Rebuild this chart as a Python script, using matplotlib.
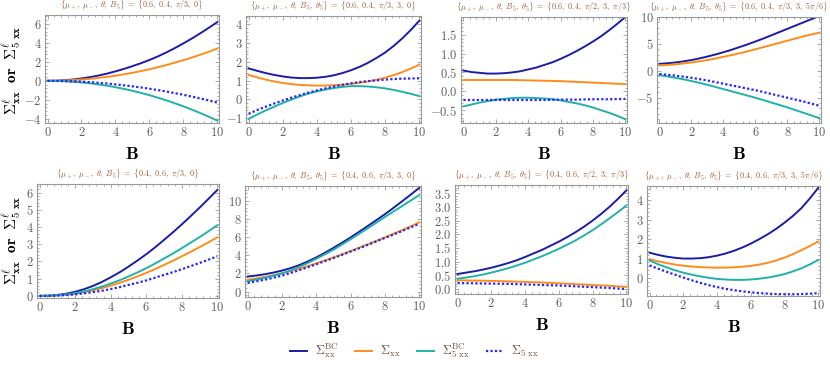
import matplotlib
matplotlib.use("Agg")
import matplotlib.pyplot as plt
from matplotlib.ticker import AutoMinorLocator, FuncFormatter, MultipleLocator
from matplotlib.lines import Line2D

plt.rcParams["mathtext.fontset"] = "cm"
plt.rcParams["font.family"] = ["DejaVu Serif"]

B = [0, 0.5, 1, 1.5, 2, 2.5, 3, 3.5, 4, 4.5, 5, 5.5, 6, 6.5, 7, 7.5, 8, 8.5, 9, 9.5, 10]

# top row: mu+ = 0.6, mu- = 0.4
r1p1_bc = [0, 0.015, 0.06, 0.14, 0.25, 0.39, 0.56, 0.76, 1.0, 1.26, 1.55, 1.86, 2.2, 2.58, 3.0, 3.46, 3.95, 4.47, 5.02, 5.6, 6.2]
r1p1_xx = [0, 0.01, 0.03, 0.08, 0.14, 0.21, 0.31, 0.42, 0.54, 0.69, 0.85, 1.03, 1.22, 1.44, 1.67, 1.92, 2.18, 2.46, 2.75, 3.07, 3.4]
r1p1_5bc = [0, -0.01, -0.04, -0.1, -0.17, -0.26, -0.38, -0.51, -0.67, -0.85, -1.05, -1.27, -1.51, -1.78, -2.06, -2.37, -2.69, -3.04, -3.4, -3.79, -4.2]
r1p1_5xx = [0, -0.01, -0.02, -0.05, -0.09, -0.14, -0.21, -0.28, -0.37, -0.47, -0.58, -0.7, -0.83, -0.98, -1.13, -1.3, -1.47, -1.66, -1.86, -2.07, -2.3]

r1p2_bc = [1.65, 1.52, 1.4, 1.3, 1.22, 1.16, 1.13, 1.13, 1.15, 1.2, 1.28, 1.4, 1.55, 1.73, 1.95, 2.21, 2.5, 2.85, 3.25, 3.7, 4.2]
r1p2_xx = [1.3, 1.17, 1.05, 0.95, 0.87, 0.81, 0.77, 0.74, 0.73, 0.73, 0.75, 0.78, 0.82, 0.88, 0.95, 1.04, 1.15, 1.29, 1.45, 1.64, 1.85]
r1p2_5bc = [-1.05, -0.82, -0.6, -0.4, -0.2, -0.02, 0.15, 0.3, 0.42, 0.52, 0.6, 0.66, 0.7, 0.7, 0.68, 0.64, 0.58, 0.5, 0.4, 0.29, 0.17]
r1p2_5xx = [-0.78, -0.58, -0.4, -0.23, -0.07, 0.08, 0.22, 0.35, 0.47, 0.58, 0.68, 0.77, 0.85, 0.92, 0.97, 1.01, 1.05, 1.08, 1.1, 1.11, 1.12]

r1p3_bc = [0.55, 0.51, 0.49, 0.47, 0.47, 0.48, 0.5, 0.53, 0.58, 0.63, 0.7, 0.77, 0.86, 0.96, 1.07, 1.19, 1.32, 1.46, 1.62, 1.79, 1.97]
r1p3_xx = [0.3, 0.3, 0.3, 0.3, 0.3, 0.3, 0.3, 0.295, 0.29, 0.285, 0.28, 0.275, 0.27, 0.26, 0.25, 0.24, 0.23, 0.22, 0.21, 0.2, 0.19]
r1p3_5bc = [-0.4, -0.35, -0.3, -0.26, -0.22, -0.2, -0.18, -0.17, -0.17, -0.18, -0.19, -0.21, -0.24, -0.28, -0.32, -0.37, -0.43, -0.5, -0.57, -0.65, -0.74]
r1p3_5xx = [-0.23, -0.23, -0.23, -0.23, -0.23, -0.23, -0.23, -0.23, -0.23, -0.23, -0.23, -0.225, -0.22, -0.22, -0.22, -0.215, -0.21, -0.21, -0.21, -0.205, -0.2]

r1p4_bc = [1.3, 1.4, 1.55, 1.75, 2.0, 2.3, 2.65, 3.03, 3.45, 3.9, 4.4, 4.9, 5.45, 6.0, 6.6, 7.2, 7.8, 8.4, 9.0, 9.6, 10.2]
r1p4_xx = [1.0, 1.08, 1.2, 1.36, 1.55, 1.76, 2.0, 2.28, 2.6, 2.92, 3.25, 3.6, 4.0, 4.4, 4.8, 5.2, 5.6, 6.0, 6.4, 6.75, 7.1]
r1p4_5bc = [-0.8, -1.04, -1.3, -1.58, -1.9, -2.24, -2.6, -3.0, -3.4, -3.8, -4.2, -4.6, -5.0, -5.45, -5.9, -6.35, -6.8, -7.3, -7.8, -8.3, -8.8]
r1p4_5xx = [-0.6, -0.74, -0.9, -1.09, -1.3, -1.54, -1.8, -2.09, -2.4, -2.7, -3.0, -3.3, -3.6, -3.95, -4.3, -4.65, -5.0, -5.35, -5.7, -6.1, -6.5]

# bottom row: mu+ = 0.4, mu- = 0.6
r2p1_bc = [0, 0.015, 0.06, 0.13, 0.24, 0.39, 0.58, 0.81, 1.08, 1.37, 1.7, 2.05, 2.42, 2.82, 3.25, 3.69, 4.15, 4.63, 5.12, 5.63, 6.15]
r2p1_xx = [0, 0.01, 0.03, 0.07, 0.13, 0.21, 0.32, 0.45, 0.6, 0.76, 0.94, 1.13, 1.34, 1.56, 1.8, 2.04, 2.3, 2.56, 2.83, 3.11, 3.4]
r2p1_5bc = [0, 0.01, 0.04, 0.09, 0.16, 0.26, 0.39, 0.54, 0.72, 0.91, 1.13, 1.36, 1.61, 1.88, 2.17, 2.46, 2.77, 3.09, 3.41, 3.75, 4.1]
r2p1_5xx = [0, 0.005, 0.02, 0.05, 0.09, 0.15, 0.22, 0.3, 0.4, 0.51, 0.64, 0.76, 0.9, 1.06, 1.22, 1.38, 1.55, 1.73, 1.91, 2.1, 2.3]

r2p2_bc = [1.65, 1.76, 1.9, 2.08, 2.3, 2.57, 2.9, 3.3, 3.75, 4.25, 4.8, 5.36, 5.95, 6.57, 7.2, 7.85, 8.5, 9.2, 9.92, 10.65, 11.4]
r2p2_xx = [1.3, 1.44, 1.6, 1.79, 2.0, 2.24, 2.5, 2.79, 3.1, 3.42, 3.75, 4.09, 4.45, 4.82, 5.2, 5.57, 5.95, 6.35, 6.75, 7.17, 7.6]
r2p2_5bc = [1.15, 1.31, 1.5, 1.73, 2.0, 2.33, 2.7, 3.13, 3.6, 4.09, 4.6, 5.16, 5.75, 6.35, 6.95, 7.57, 8.2, 8.8, 9.4, 10.0, 10.6]
r2p2_5xx = [0.95, 1.12, 1.3, 1.51, 1.75, 2.04, 2.35, 2.67, 3.0, 3.34, 3.68, 4.04, 4.4, 4.76, 5.13, 5.51, 5.9, 6.27, 6.65, 7.05, 7.45]

r2p3_bc = [0.55, 0.6, 0.65, 0.71, 0.78, 0.86, 0.95, 1.05, 1.17, 1.3, 1.43, 1.58, 1.73, 1.9, 2.08, 2.28, 2.5, 2.74, 3.0, 3.29, 3.6]
r2p3_xx = [0.32, 0.315, 0.31, 0.305, 0.3, 0.29, 0.28, 0.27, 0.26, 0.25, 0.24, 0.225, 0.21, 0.195, 0.18, 0.165, 0.15, 0.135, 0.12, 0.1, 0.08]
r2p3_5bc = [0.38, 0.42, 0.47, 0.53, 0.6, 0.68, 0.76, 0.86, 0.96, 1.08, 1.2, 1.33, 1.47, 1.62, 1.78, 1.96, 2.15, 2.36, 2.58, 2.81, 3.05]
r2p3_5xx = [0.22, 0.215, 0.21, 0.205, 0.2, 0.195, 0.19, 0.18, 0.17, 0.16, 0.15, 0.14, 0.13, 0.115, 0.1, 0.085, 0.07, 0.055, 0.04, 0.02, 0.0]

r2p4_bc = [1.3, 1.19, 1.1, 1.04, 1.0, 1.0, 1.02, 1.07, 1.15, 1.26, 1.4, 1.57, 1.77, 2.0, 2.25, 2.53, 2.85, 3.2, 3.6, 4.1, 4.65]
r2p4_xx = [0.97, 0.86, 0.77, 0.69, 0.63, 0.59, 0.56, 0.54, 0.53, 0.535, 0.55, 0.58, 0.62, 0.69, 0.78, 0.9, 1.05, 1.23, 1.43, 1.65, 1.88]
r2p4_5bc = [0.9, 0.71, 0.55, 0.4, 0.27, 0.17, 0.08, 0.01, -0.05, -0.08, -0.1, -0.1, -0.08, -0.04, 0.02, 0.1, 0.2, 0.34, 0.5, 0.7, 0.93]
r2p4_5xx = [0.65, 0.48, 0.32, 0.17, 0.02, -0.12, -0.25, -0.37, -0.47, -0.56, -0.63, -0.69, -0.74, -0.78, -0.81, -0.83, -0.84, -0.84, -0.83, -0.81, -0.78]

titles = [
    r"$\{\mu_+,\ \mu_-,\ \theta,\ B_5\}\ =\ \{0.6,\ 0.4,\ \pi/3,\ 0\}$",
    r"$\{\mu_+,\ \mu_-,\ \theta,\ B_5,\ \theta_5\}\ =\ \{0.6,\ 0.4,\ \pi/3,\ 3,\ 0\}$",
    r"$\{\mu_+,\ \mu_-,\ \theta,\ B_5,\ \theta_5\}\ =\ \{0.6,\ 0.4,\ \pi/2,\ 3,\ \pi/3\}$",
    r"$\{\mu_+,\ \mu_-,\ \theta,\ B_5,\ \theta_5\}\ =\ \{0.6,\ 0.4,\ \pi/3,\ 3,\ 5\pi/6\}$",
    r"$\{\mu_+,\ \mu_-,\ \theta,\ B_5\}\ =\ \{0.4,\ 0.6,\ \pi/3,\ 0\}$",
    r"$\{\mu_+,\ \mu_-,\ \theta,\ B_5,\ \theta_5\}\ =\ \{0.4,\ 0.6,\ \pi/3,\ 3,\ 0\}$",
    r"$\{\mu_+,\ \mu_-,\ \theta,\ B_5,\ \theta_5\}\ =\ \{0.4,\ 0.6,\ \pi/2,\ 3,\ \pi/3\}$",
    r"$\{\mu_+,\ \mu_-,\ \theta,\ B_5,\ \theta_5\}\ =\ \{0.4,\ 0.6,\ \pi/3,\ 3,\ 5\pi/6\}$",
]

panels = [
    (r1p1_bc, r1p1_xx, r1p1_5bc, r1p1_5xx),
    (r1p2_bc, r1p2_xx, r1p2_5bc, r1p2_5xx),
    (r1p3_bc, r1p3_xx, r1p3_5bc, r1p3_5xx),
    (r1p4_bc, r1p4_xx, r1p4_5bc, r1p4_5xx),
    (r2p1_bc, r2p1_xx, r2p1_5bc, r2p1_5xx),
    (r2p2_bc, r2p2_xx, r2p2_5bc, r2p2_5xx),
    (r2p3_bc, r2p3_xx, r2p3_5bc, r2p3_5xx),
    (r2p4_bc, r2p4_xx, r2p4_5bc, r2p4_5xx),
]

ylims = [(-4.45, 6.95), (-1.27, 4.45), (-0.84, 1.97), (-9.7, 10.0),
         (-0.12, 6.5), (-0.6, 11.6), (-0.18, 3.8), (-0.93, 4.74)]
ysteps = [2, 1, 0.5, 5, 1, 2, 0.5, 1]

# axes boxes in pixels: left, top, right, bottom
boxes = [(45, 15, 219, 123), (246, 16, 421, 123), (461, 17, 627, 123), (657, 17, 821, 123),
         (37, 184, 219, 298), (245, 186, 421, 297), (455, 185, 628, 294), (647, 186, 820, 296)]

colors = ["#1c1ca6", "#ff8c1a", "#20b2aa", "#2525ff"]
W, H = 830, 370


def tick_fmt(decimals):
    def fmt(v, pos):
        txt = f"{v:.{decimals}f}".replace("-", "")
        sign = "-" if v < -1e-9 else ""
        return r"$%s\mathbf{%s}$" % (sign, txt)
    return FuncFormatter(fmt)


fig = plt.figure(figsize=(8.3, 3.7), dpi=100)

for i, (series, title, ylim, step, box) in enumerate(zip(panels, titles, ylims, ysteps, boxes)):
    l, t, r, b = box
    ax = fig.add_axes([l / W, 1 - b / H, (r - l) / W, (b - t) / H])
    bc, xx, bc5, xx5 = series
    ax.plot(B, bc, color=colors[0], lw=1.4)
    ax.plot(B, xx, color=colors[1], lw=1.4)
    ax.plot(B, bc5, color=colors[2], lw=1.4)
    ax.plot(B, xx5, color=colors[3], lw=1.6, ls=(0, (1, 1)))
    ax.set_xlim(-0.15, 10.1)
    ax.set_ylim(*ylim)
    ax.xaxis.set_major_locator(MultipleLocator(2))
    ax.xaxis.set_minor_locator(AutoMinorLocator(5))
    ax.xaxis.set_major_formatter(tick_fmt(0))
    ax.yaxis.set_major_locator(MultipleLocator(step))
    ax.yaxis.set_minor_locator(AutoMinorLocator(5))
    ax.yaxis.set_major_formatter(tick_fmt(1 if step == 0.5 else 0))
    ax.tick_params(which="both", direction="in", top=True, right=True,
                   colors="#888888", labelcolor="#606060", labelsize=9, width=0.5, pad=2.5)
    ax.tick_params(which="major", length=3)
    ax.tick_params(which="minor", length=1.5)
    for s in ax.spines.values():
        s.set_color("#999999")
        s.set_linewidth(0.8)
    ax.text(0.5, 1.025, title, transform=ax.transAxes, ha="center", va="bottom",
            fontsize=5.8, color="#9a5a32")
    ax.set_xlabel(r"$\mathbf{B}$", fontsize=13, labelpad=4)

ylab = r"$\mathbf{\Sigma}^{\ell}_{\mathbf{xx}}\ \ \mathbf{or}\ \ \mathbf{\Sigma}^{\ell}_{\mathbf{5\ xx}}$"
fig.text(12 / W, 1 - 70 / H, ylab, rotation=90, ha="center", va="center", fontsize=11)
fig.text(12 / W, 1 - 240 / H, ylab, rotation=90, ha="center", va="center", fontsize=11)

handles = [
    Line2D([], [], color=colors[0], lw=1.4),
    Line2D([], [], color=colors[1], lw=1.4),
    Line2D([], [], color=colors[2], lw=1.4),
    Line2D([], [], color=colors[3], lw=1.6, ls=(0, (1, 1))),
]
labels = [r"$\Sigma^{\rm BC}_{\rm xx}$", r"$\Sigma_{\rm xx}$",
          r"$\Sigma^{\rm BC}_{\rm 5\ xx}$", r"$\Sigma_{\rm 5\ xx}$"]
leg = fig.legend(handles, labels, loc="center", bbox_to_anchor=(414 / W, 1 - 351 / H),
                 ncol=4, frameon=False, fontsize=9, handlelength=1.4, columnspacing=1.3,
                 handletextpad=0.6)
for txt in leg.get_texts():
    txt.set_color("#6b5444")

fig.savefig("out.png", dpi=100)
